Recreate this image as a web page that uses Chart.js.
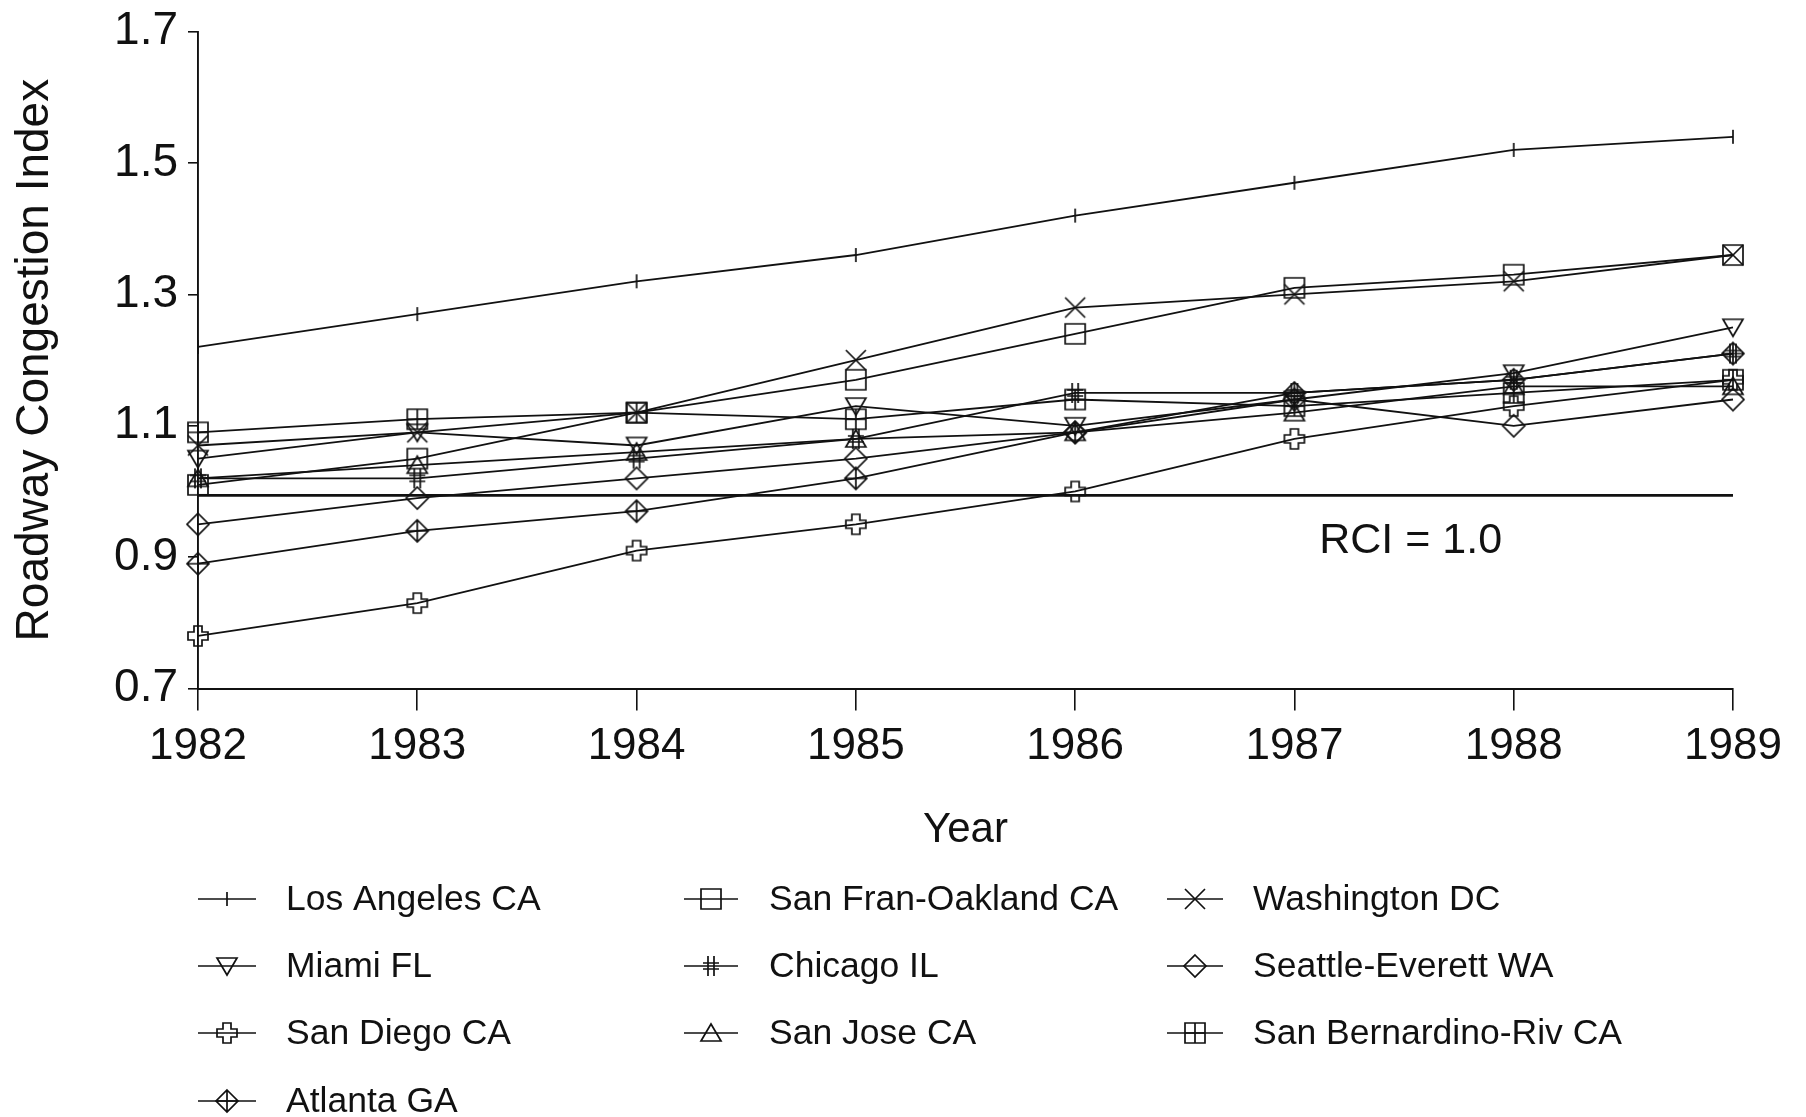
<!DOCTYPE html>
<html><head><meta charset="utf-8">
<script src="https://cdn.jsdelivr.net/npm/chart.js@4.4.1/dist/chart.umd.min.js"></script>
<style>html,body{margin:0;padding:0;background:#fff;}canvas{display:block;}</style>
</head><body>
<canvas id="c" width="1806" height="1117"></canvas>
<script>
// ---- data ----
const years = ['1982','1983','1984','1985','1986','1987','1988','1989'];
const yTicks = [0.7, 0.9, 1.1, 1.3, 1.5, 1.7];
const yTickLabels = ['0.7','0.9','1.1','1.3','1.5','1.7'];
const seriesNames = ['Los Angeles CA','San Fran-Oakland CA','Washington DC','Miami FL','Chicago IL','Seattle-Everett WA','San Diego CA','San Jose CA','San Bernardino-Riv CA','Atlanta GA'];
const losAngeles   = [1.22, 1.27, 1.32, 1.36, 1.42, 1.47, 1.52, 1.54];
const sanFran      = [1.01, 1.05, 1.12, 1.17, 1.24, 1.31, 1.33, 1.36];
const washington   = [1.07, 1.09, 1.12, 1.20, 1.28, 1.30, 1.32, 1.36];
const miami        = [1.05, 1.09, 1.07, 1.13, 1.10, 1.14, 1.18, 1.25];
const chicago      = [1.02, 1.02, 1.05, 1.08, 1.15, 1.15, 1.17, 1.21];
const seattle      = [0.95, 0.99, 1.02, 1.05, 1.09, 1.14, 1.10, 1.14];
const sanDiego     = [0.78, 0.83, 0.91, 0.95, 1.00, 1.08, 1.13, 1.17];
const sanJose      = [1.02, 1.04, 1.06, 1.08, 1.09, 1.12, 1.16, 1.16];
const sanBernardino= [1.09, 1.11, 1.12, 1.11, 1.14, 1.13, 1.15, 1.17];
const atlanta      = [0.89, 0.94, 0.97, 1.02, 1.09, 1.15, 1.17, 1.21];
const rciLine      = [0.994, 0.994, 0.994, 0.994, 0.994, 0.994, 0.994, 0.994];
const rciLabel = 'RCI = 1.0';

const seriesValues = [losAngeles, sanFran, washington, miami, chicago, seattle, sanDiego, sanJose, sanBernardino, atlanta];

// ---- marker glyphs ----
const INK = '#111';
const FONT = '"Liberation Sans", Arial, Helvetica, sans-serif';
function mk(draw){
  const c = document.createElement('canvas'); c.width = 26; c.height = 26;
  const g = c.getContext('2d'); g.strokeStyle = INK; g.lineWidth = 1.7; g.translate(13,13);
  g.beginPath(); draw(g); g.stroke(); return c;
}
const markers = [
  mk(g=>{ g.moveTo(0,-7); g.lineTo(0,7); }),                                        // plus (LA)
  mk(g=>{ g.rect(-10,-10,20,20); }),                                                // square
  mk(g=>{ g.moveTo(-10,-10); g.lineTo(10,10); g.moveTo(10,-10); g.lineTo(-10,10); }), // X
  mk(g=>{ g.moveTo(-10,-8); g.lineTo(10,-8); g.lineTo(0,9); g.closePath(); }),      // down triangle
  mk(g=>{ g.moveTo(-3,-10); g.lineTo(-3,10); g.moveTo(3,-10); g.lineTo(3,10); g.moveTo(-8,-3); g.lineTo(8,-3); g.moveTo(-8,3); g.lineTo(8,3); }), // hash
  mk(g=>{ g.moveTo(0,-11); g.lineTo(11,0); g.lineTo(0,11); g.lineTo(-11,0); g.closePath(); }), // diamond
  mk(g=>{ const a=4,b=10; g.moveTo(-a,-b); g.lineTo(a,-b); g.lineTo(a,-a); g.lineTo(b,-a); g.lineTo(b,a); g.lineTo(a,a); g.lineTo(a,b); g.lineTo(-a,b); g.lineTo(-a,a); g.lineTo(-b,a); g.lineTo(-b,-a); g.lineTo(-a,-a); g.closePath(); }), // thick cross
  mk(g=>{ g.moveTo(0,-9); g.lineTo(10,8); g.lineTo(-10,8); g.closePath(); }),       // up triangle
  mk(g=>{ g.rect(-10,-10,20,20); g.moveTo(0,-10); g.lineTo(0,10); g.moveTo(-10,0); g.lineTo(10,0); }), // square plus
  mk(g=>{ g.moveTo(0,-11); g.lineTo(11,0); g.lineTo(0,11); g.lineTo(-11,0); g.closePath(); g.moveTo(0,-11); g.lineTo(0,11); g.moveTo(-11,0); g.lineTo(11,0); }) // diamond plus
];

const datasets = seriesNames.map((name, i) => ({
  label: name, data: seriesValues[i], borderColor: INK, borderWidth: 1.8,
  pointStyle: markers[i], pointRadius: 11, clip: false, tension: 0, fill: false
}));
datasets.push({ label: 'RCI', data: rciLine, borderColor: INK, borderWidth: 2.6, pointRadius: 0, clip: false, tension: 0, fill: false, isRef: true });

// ---- custom legend (3 columns) ----
const legendPlugin = {
  id: 'gridLegend',
  afterDraw(chart){
    const ctx = chart.ctx;
    const cols = [{a:198,b:256,t:286},{a:684,b:738,t:769},{a:1167,b:1223,t:1253}];
    const rows = [899, 966, 1033, 1101];
    ctx.save();
    ctx.font = '35.5px ' + FONT; ctx.fillStyle = INK; ctx.textBaseline = 'middle'; ctx.textAlign = 'left';
    chart.data.datasets.forEach((ds, i) => {
      if (ds.isRef) return;
      const c = cols[i % 3], y = rows[Math.floor(i / 3)];
      ctx.strokeStyle = INK; ctx.lineWidth = 1.6;
      ctx.beginPath(); ctx.moveTo(c.a, y); ctx.lineTo(c.b, y); ctx.stroke();
      const m = ds.pointStyle; ctx.drawImage(m, (c.a + c.b) / 2 - m.width / 2, y - m.height / 2);
      ctx.fillText(ds.label, c.t, y + 1);
    });
    // RCI label placed in data coordinates
    const xs = chart.scales.x, ys = chart.scales.y;
    ctx.font = '43px ' + FONT; ctx.textAlign = 'center';
    ctx.fillText(rciLabel, xs.getPixelForValue(5.53), ys.getPixelForValue(0.924));
    ctx.restore();
  }
};

new Chart(document.getElementById('c'), {
  type: 'line',
  data: { labels: years, datasets },
  options: {
    responsive: false, animation: false, devicePixelRatio: 1,
    layout: { padding: { left: 0, right: 73, top: 31.7, bottom: 249 } },
    plugins: { legend: { display: false }, tooltip: { enabled: false } },
    scales: {
      x: {
        type: 'category', offset: false,
        grid: { drawOnChartArea: false, drawTicks: true, tickLength: 22, color: INK, lineWidth: 1.6 },
        border: { display: true, color: INK, width: 1.9 },
        ticks: { font: { family: FONT, size: 44 }, color: INK, padding: 10, maxRotation: 0, autoSkip: false },
        title: { display: true, text: 'Year', font: { family: FONT, size: 42 }, color: INK, padding: { top: 0, bottom: 12.5 } },
        afterFit: s => { s.height = 179.5; s.paddingLeft = 0; s.paddingRight = 0; }
      },
      y: {
        min: 0.7, max: 1.7,
        afterBuildTicks: s => { s.ticks = yTicks.map(v => ({ value: v })); },
        grid: { drawOnChartArea: false, drawTicks: true, tickLength: 10, color: INK, lineWidth: 1.6 },
        border: { display: true, color: INK, width: 1.9 },
        ticks: { font: { family: FONT, size: 46 }, color: INK, padding: 10, callback: (v, i) => yTickLabels[i] },
        title: { display: true, text: 'Roadway Congestion Index', font: { family: FONT, size: 46 }, color: INK, padding: { top: 8, bottom: 0 } },
        afterFit: s => { s.width = 198; s.paddingTop = 0; s.paddingBottom = 0; }
      }
    }
  },
  plugins: [legendPlugin]
});
</script>
</body></html>
